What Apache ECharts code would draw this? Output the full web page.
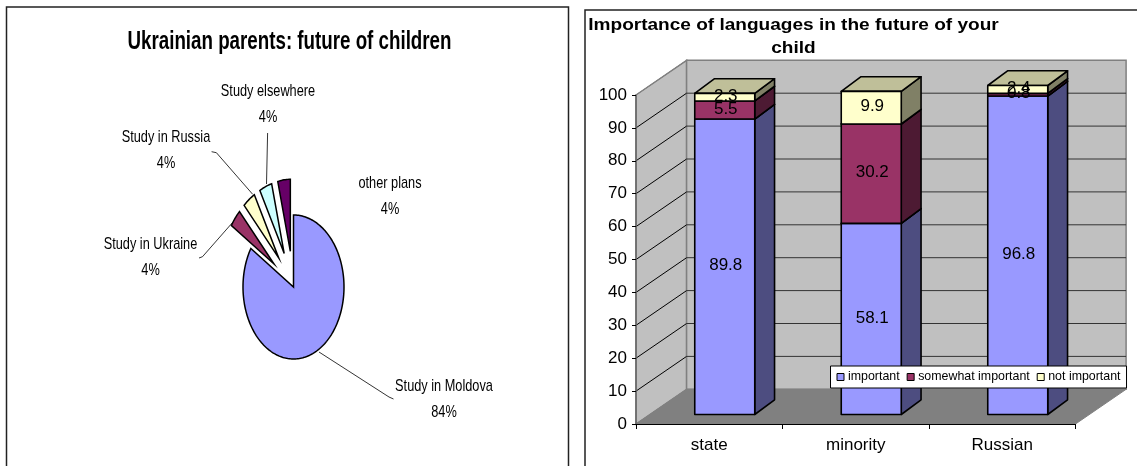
<!DOCTYPE html>
<html>
<head>
<meta charset="utf-8">
<style>html,body{margin:0;padding:0;background:#fff}#chart{width:1137px;height:466px}</style>
<script src="https://cdn.jsdelivr.net/npm/echarts@6/dist/echarts.min.js"></script>
</head>
<body>
<div id="chart"></div>
<script>
// Left panel: parents' plans for their children
const planNames = ['Study in Moldova', 'Study in Ukraine', 'Study in Russia', 'Study elsewhere', 'other plans'];
const planShares = [84, 4, 4, 4, 4];

// Right panel: importance of languages
const languages = ['state', 'minority', 'Russian'];
const important = [89.8, 58.1, 96.8];
const somewhat = [5.5, 30.2, 0.8];
const notImportant = [2.3, 9.9, 2.4];
const percentTicks = [0, 10, 20, 30, 40, 50, 60, 70, 80, 90, 100];

// Layout of the exploded pie
const pieBox = { cx: 293.5, cy: 287, rx: 50.5, ry: 72 };
const planColors = ['#9999FF', '#993366', '#FFFFCC', '#CCFFFF', '#660066'];
const planExplode = [0, 0.5, 0.5, 0.5, 0.5];
const planCaptions = [
  { x: 444, y: 399, line: [[319, 352], [389, 397], [393.5, 399]] },
  { x: 150.5, y: 257, line: [[233, 222], [202.5, 256.7], [199, 258]] },
  { x: 166, y: 150, line: [[252.7, 194.3], [216.4, 152.7], [211.6, 151.7]] },
  { x: 268, y: 104, line: [[266.5, 184], [267.6, 133]] },
  { x: 390, y: 196.5, line: null }
];
const narrowText = 0.75;
const wideText = 1.19;

// Layout of the pseudo-3D box and its bars
const wallDepth = [50.6, -34.7];
const barDepth = [19.8, -14.7];
const barLift = -9.5;
const barShift = 15.5;
const barWidth = 60;
const layerColors = {
  important: { front: '#9999FF', side: '#4D4D80', top: '#7A7ACC' },
  somewhat: { front: '#993366', side: '#4D1A33', top: '#7A2952' },
  notImportant: { front: '#FFFFCC', side: '#808066', top: '#BFBF99' }
};

function ellipsePoint(angle, radiusScale) {
  return [Math.sin(angle) * pieBox.rx * radiusScale, -Math.cos(angle) * pieBox.ry * radiusScale];
}

function renderSlice(params, api) {
  const i = params.dataIndex;
  let before = 0;
  for (let k = 0; k < i; k++) before += planShares[k];
  const total = planShares.reduce((a, b) => a + b, 0);
  const start = before / total * Math.PI * 2;
  const end = (before + api.value(0)) / total * Math.PI * 2;
  const shift = ellipsePoint((start + end) / 2, planExplode[i]);
  const ox = pieBox.cx + shift[0];
  const oy = pieBox.cy + shift[1];
  const points = [[ox, oy]];
  const steps = Math.max(6, Math.round((end - start) * 40));
  for (let s = 0; s <= steps; s++) {
    const p = ellipsePoint(start + (end - start) * s / steps, 1);
    points.push([ox + p[0], oy + p[1]]);
  }
  const children = [{
    type: 'polygon',
    shape: { points },
    style: { fill: planColors[i], stroke: '#000', lineWidth: 1.5, lineJoin: 'miter' }
  }];
  const caption = planCaptions[i];
  if (caption.line) {
    children.push({
      type: 'polyline',
      shape: { points: caption.line },
      style: { fill: 'none', stroke: '#000', lineWidth: 0.8 }
    });
  }
  children.push({
    type: 'text',
    x: caption.x,
    y: caption.y,
    scaleX: narrowText,
    style: {
      text: planNames[i] + '\n' + api.value(0) + '%',
      font: '17px "Liberation Sans", sans-serif',
      fill: '#000',
      align: 'center',
      verticalAlign: 'middle',
      lineHeight: 26
    }
  });
  return { type: 'group', children };
}

function renderWalls(params, api) {
  const origin = api.coord([0, 0]);
  const left = origin[0] - api.size([1, 0])[0] / 2;
  const right = left + api.size([1, 0])[0] * languages.length;
  const bottom = origin[1];
  const top = api.coord([0, 100])[1];
  const [dx, dy] = wallDepth;
  const children = [
    { type: 'polygon', shape: { points: [[left, top], [left + dx, top + dy], [left + dx, bottom + dy], [left, bottom]] },
      style: { fill: '#C0C0C0', stroke: '#808080', lineWidth: 1.5 } },
    { type: 'rect', shape: { x: left + dx, y: top + dy, width: right - left, height: bottom - top },
      style: { fill: '#C0C0C0', stroke: '#808080', lineWidth: 1.5 } },
    { type: 'polygon', shape: { points: [[left, bottom], [right, bottom], [right + dx, bottom + dy], [left + dx, bottom + dy]] },
      style: { fill: '#808080', stroke: '#808080', lineWidth: 1 } }
  ];
  percentTicks.slice(1).forEach(function (tick) {
    const y = api.coord([0, tick])[1];
    children.push({
      type: 'polyline',
      shape: { points: [[left, y], [left + dx, y + dy]] },
      style: { fill: 'none', stroke: tick === 100 ? '#808080' : '#000', lineWidth: 1 }
    });
    if (tick < 100) {
      children.push({
        type: 'polyline',
        shape: { points: [[left + dx, y + dy], [right + dx, y + dy]] },
        style: { fill: 'none', stroke: '#333', lineWidth: 1 }
      });
    }
  });
  return { type: 'group', children };
}

function barRenderer(colors) {
  return function (params, api) {
    const cat = api.value(0);
    const low = api.value(1);
    const high = api.value(2);
    const cx = api.coord([cat, 0])[0] + barShift;
    const y0 = api.coord([cat, low])[1] + barLift;
    const y1 = api.coord([cat, high])[1] + barLift;
    const x0 = cx - barWidth / 2;
    const x1 = cx + barWidth / 2;
    const [dx, dy] = barDepth;
    const edge = { stroke: '#000', lineWidth: 1.6, lineJoin: 'round' };
    return {
      type: 'group',
      children: [
        { type: 'polygon', shape: { points: [[x1, y0], [x1 + dx, y0 + dy], [x1 + dx, y1 + dy], [x1, y1]] },
          style: Object.assign({ fill: colors.side }, edge) },
        { type: 'polygon', shape: { points: [[x0, y1], [x1, y1], [x1 + dx, y1 + dy], [x0 + dx, y1 + dy]] },
          style: Object.assign({ fill: colors.top }, edge) },
        { type: 'rect', shape: { x: x0, y: y1, width: barWidth, height: y0 - y1 },
          style: Object.assign({ fill: colors.front }, edge) },
        // Value captions sit above every bar face so thin layers stay readable
        { type: 'text', z2: 100, x: cx + 1, y: (y0 + y1) / 2 - 1,
          style: { text: String(api.value(3)), font: '17px "Liberation Sans", sans-serif',
            fill: '#000', align: 'center', verticalAlign: 'middle' } }
      ]
    };
  };
}

// Each layer's rows carry [category, base, top, own value]
function layerRows(values, lowerLayers) {
  return values.map(function (value, i) {
    const base = lowerLayers.reduce((sum, layer) => sum + layer[i], 0);
    return [i, base, base + value, value];
  });
}

function barSeries(name, values, lowerLayers, colors) {
  return {
    name, type: 'custom', xAxisIndex: 0, yAxisIndex: 0, z: 3,
    itemStyle: { color: colors.front },
    data: layerRows(values, lowerLayers),
    encode: { x: 0, y: 2 },
    renderItem: barRenderer(colors)
  };
}

const chart = echarts.init(document.getElementById('chart'), null, { renderer: 'canvas' });
chart.setOption({
  animation: false,
  backgroundColor: '#fff',
  graphic: [
    { type: 'rect', z: -1, shape: { x: 6.5, y: 7, width: 562, height: 480 }, style: { fill: '#fff', stroke: '#222', lineWidth: 1.5 } },
    { type: 'rect', z: -1, shape: { x: 585, y: 10, width: 580, height: 480 }, style: { fill: '#fff', stroke: '#222', lineWidth: 1.5 } },
    { type: 'text', z: 5, x: 289.5, y: 42, scaleX: narrowText,
      style: { text: 'Ukrainian parents: future of children', font: 'bold 25px "Liberation Sans", sans-serif',
        fill: '#000', align: 'center', verticalAlign: 'middle' } },
    { type: 'text', z: 5, x: 793.5, y: 37.5, scaleX: wideText,
      style: { text: 'Importance of languages in the future of your\nchild', font: 'bold 16px "Liberation Sans", sans-serif',
        fill: '#000', align: 'center', verticalAlign: 'middle', lineHeight: 23 } }
  ],
  grid: { left: 636, top: 95, width: 439.5, height: 329, containLabel: false },
  xAxis: {
    type: 'category', data: languages, z: 4,
    axisLine: { lineStyle: { color: '#000', width: 1 } },
    axisTick: { show: true, length: 5, lineStyle: { color: '#000' }, alignWithLabel: false },
    axisLabel: { fontSize: 17, color: '#000', fontFamily: '"Liberation Sans"', margin: 13 }
  },
  yAxis: {
    type: 'value', min: 0, max: 100, interval: 10, z: 4,
    splitLine: { show: false },
    axisLine: { show: true, lineStyle: { color: '#666', width: 1.5 } },
    axisTick: { show: true, length: 4, lineStyle: { color: '#000' } },
    axisLabel: { fontSize: 17, color: '#000', fontFamily: '"Liberation Sans"', margin: 9 }
  },
  legend: {
    left: 830.5, top: 366, orient: 'horizontal',
    backgroundColor: '#fff', borderColor: '#000', borderWidth: 1,
    padding: [5, 6, 5, 6], itemGap: 7, itemWidth: 7, itemHeight: 7,
    itemStyle: { borderColor: '#000', borderWidth: 1 },
    textStyle: { fontSize: 12.4, color: '#000', fontFamily: '"Liberation Sans"', padding: [0, 0, 0, -1] },
    data: [
      { name: 'important', icon: 'rect' },
      { name: 'somewhat important', icon: 'rect' },
      { name: 'not important', icon: 'rect' }
    ],
    selectedMode: false
  },
  series: [
    { type: 'custom', coordinateSystem: 'none', z: 2, data: planShares.map(v => [v]), renderItem: renderSlice, silent: true },
    { type: 'custom', xAxisIndex: 0, yAxisIndex: 0, z: 1, data: [[0, 0]], renderItem: renderWalls, silent: true },
    barSeries('important', important, [], layerColors.important),
    barSeries('somewhat important', somewhat, [important], layerColors.somewhat),
    barSeries('not important', notImportant, [important, somewhat], layerColors.notImportant)
  ]
});
</script>
</body>
</html>
